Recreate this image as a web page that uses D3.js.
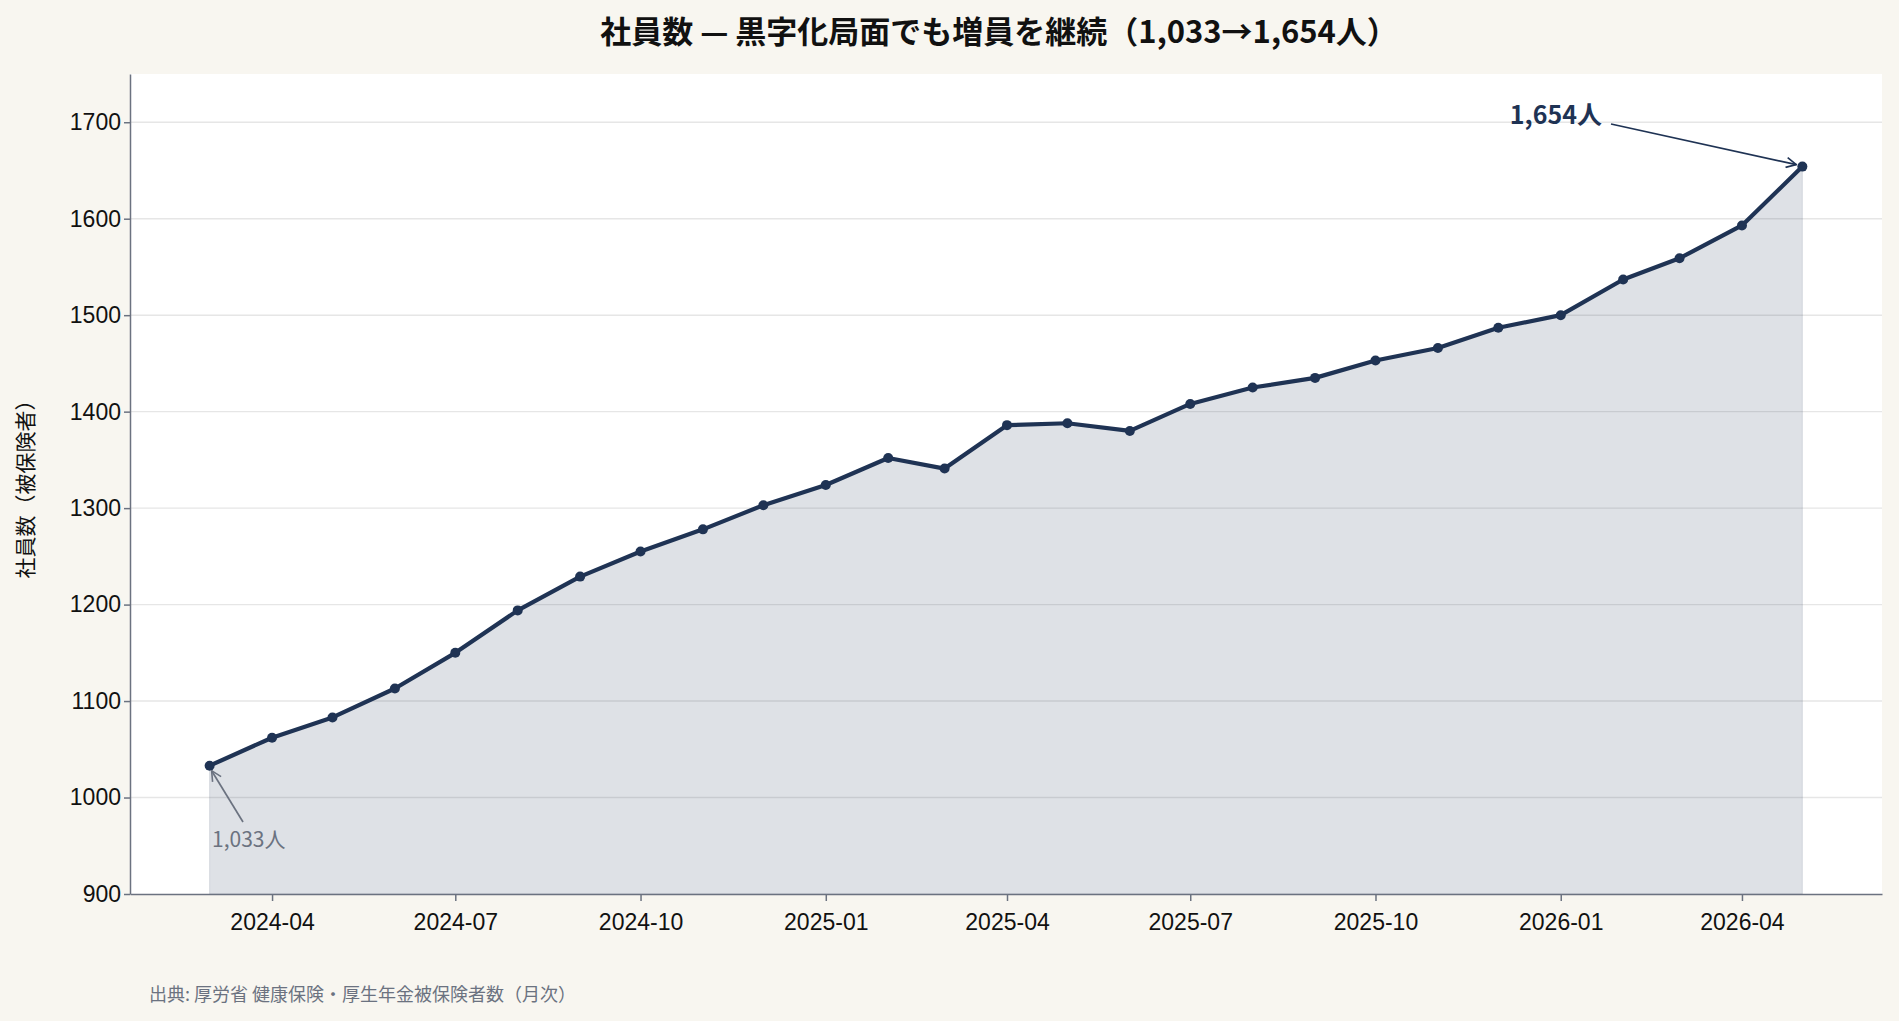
<!DOCTYPE html>
<html><head><meta charset="utf-8">
<script src="https://cdn.jsdelivr.net/npm/d3@7"></script>
<style>body{margin:0;background:#f8f6f0;}svg{display:block;font-family:"Noto Sans CJK JP","Noto Sans",sans-serif;}</style>
</head><body><svg id="c" width="1899" height="1021"></svg>
<script>
const months=["2024-03","2024-04","2024-05","2024-06","2024-07","2024-08","2024-09","2024-10","2024-11","2024-12","2025-01","2025-02","2025-03","2025-04","2025-05","2025-06","2025-07","2025-08","2025-09","2025-10","2025-11","2025-12","2026-01","2026-02","2026-03","2026-04","2026-05"];
const employees=[1033,1062,1083,1113,1150,1194,1229,1255,1278,1303,1324,1352,1341,1386,1388,1380,1408,1425,1435,1453,1466,1487,1500,1537,1559,1593,1654];
const xTicks=["2024-04","2024-07","2024-10","2025-01","2025-04","2025-07","2025-10","2026-01","2026-04"];
const yTicks=[900,1000,1100,1200,1300,1400,1500,1600,1700];
const title="社員数 — 黒字化局面でも増員を継続（1,033→1,654人）";
const yLabel="社員数（被保険者）";
const source="出典: 厚労省 健康保険・厚生年金被保険者数（月次）";

const parse=d3.timeParse("%Y-%m");
const data=months.map((m,i)=>({d:parse(m),v:employees[i]}));
const L=130,R=1882,T=74,B=894;
const svg=d3.select("#c");
const t0=data[0].d,t1=data[data.length-1].d,span=t1-t0;
const x=d3.scaleTime().domain([new Date(+t0-span*0.05),new Date(+t1+span*0.05)]).range([L,R]);
const y=d3.scaleLinear().domain([900,1750]).range([B,T]);
svg.append("rect").attr("x",L).attr("y",T).attr("width",R-L).attr("height",B-T).attr("fill","#fff");
svg.append("g").selectAll("line").data(yTicks.filter(v=>v>900)).join("line")
 .attr("x1",L).attr("x2",R).attr("y1",d=>y(d)).attr("y2",d=>y(d)).attr("stroke","#e6e6e6").attr("stroke-width",1.4);
svg.append("path").datum(data).attr("d",d3.area().x(d=>x(d.d)).y0(y(900)).y1(d=>y(d.v)))
 .attr("fill","rgba(31,51,84,0.15)").attr("stroke","rgba(31,51,84,0.12)");
svg.append("path").datum(data).attr("d",d3.line().x(d=>x(d.d)).y(d=>y(d.v)))
 .attr("fill","none").attr("stroke","#1f3354").attr("stroke-width",4.2).attr("stroke-linejoin","round");
svg.append("g").selectAll("circle").data(data).join("circle").attr("cx",d=>x(d.d)).attr("cy",d=>y(d.v)).attr("r",5).attr("fill","#1f3354");
const ya=svg.append("g").attr("transform",`translate(${L},0)`).call(d3.axisLeft(y).tickValues(yTicks).tickFormat(d3.format("d")).tickSize(6).tickSizeOuter(0));
const xa=svg.append("g").attr("transform",`translate(0,${B})`).call(d3.axisBottom(x).tickValues(xTicks.map(parse)).tickFormat(d3.timeFormat("%Y-%m")).tickSize(7).tickSizeOuter(0));
[ya,xa].forEach(a=>{a.selectAll("path,line").attr("stroke","#6b7280").attr("stroke-width",1.5);a.selectAll("text").attr("font-size",23).attr("fill","#111");});
xa.selectAll("text").attr("dy","1.15em");
svg.append("text").attr("x",999).attr("y",43).attr("text-anchor","middle").attr("font-size",31).attr("font-weight","bold").attr("fill","#111").text(title);
svg.append("text").attr("transform",`translate(33,${(T+B)/2}) rotate(-90)`).attr("text-anchor","middle").attr("font-size",21).attr("fill","#111").text(yLabel);
svg.append("text").attr("x",149).attr("y",1001).attr("font-size",18).attr("fill","#6b7280").text(source);
const defs=svg.append("defs");
[["a1","#1f3354"],["a2","#6b7280"]].forEach(([id,c])=>defs.append("marker").attr("id",id).attr("viewBox","0 0 12 12").attr("refX",11).attr("refY",6).attr("markerWidth",12).attr("markerHeight",12).attr("orient","auto").attr("markerUnits","userSpaceOnUse")
 .append("path").attr("d","M1,1L11,6L1,11").attr("fill","none").attr("stroke",c).attr("stroke-width",1.6));
const last=data[data.length-1],first=data[0];
svg.append("line").attr("x1",1611).attr("y1",124).attr("x2",x(last.d)-6).attr("y2",y(last.v)-2).attr("stroke","#1f3354").attr("stroke-width",1.7).attr("marker-end","url(#a1)");
svg.append("text").attr("x",1602).attr("y",124).attr("text-anchor","end").attr("font-size",25).attr("font-weight","bold").attr("fill","#1f3354").text("1,654人");
svg.append("line").attr("x1",243).attr("y1",822).attr("x2",x(first.d)+2).attr("y2",y(first.v)+5).attr("stroke","#6b7280").attr("stroke-width",1.7).attr("marker-end","url(#a2)");
svg.append("text").attr("x",212).attr("y",847).attr("font-size",21).attr("fill","#6b7280").text("1,033人");
</script></body></html>
